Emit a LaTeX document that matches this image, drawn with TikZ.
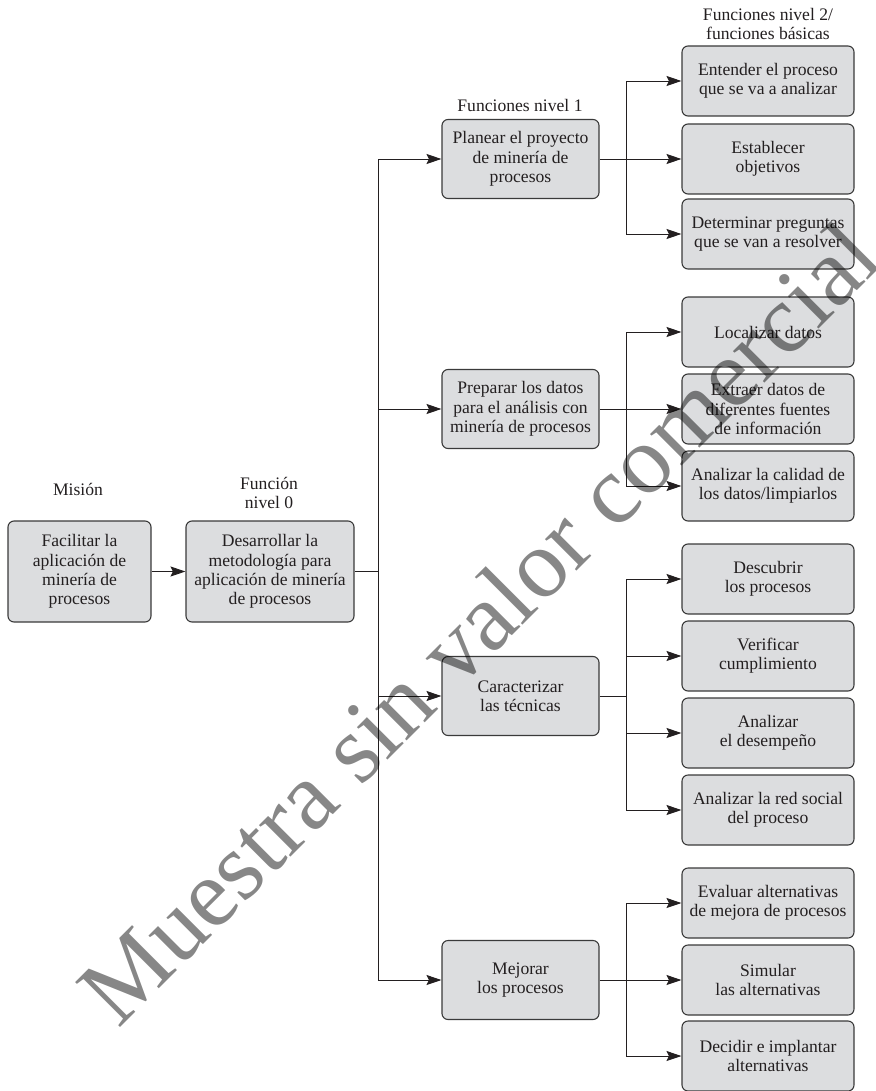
\documentclass[tikz,border=0pt]{standalone}
\usepackage{fontspec}
\setmainfont{Liberation Serif}
\newfontfamily\wmfont{Liberation Serif}
\usetikzlibrary{arrows.meta}
\definecolor{boxfill}{HTML}{DCDDDF}
\definecolor{boxline}{HTML}{3A3A3A}
\definecolor{ink}{HTML}{231F20}
\tikzset{
  fbox/.style={draw=boxline, line width=1.1pt, fill=boxfill, rounded corners=6pt,
    align=center, text=ink, inner sep=0pt,
    font=\fontsize{17.6}{19.3}\selectfont},
  mainbox/.style={fbox, minimum width=143pt, minimum height=101pt},
  zerobox/.style={fbox, minimum width=168pt, minimum height=101pt},
  levelone/.style={fbox, minimum width=157pt, minimum height=79pt},
  leveltwo/.style={fbox, minimum width=172pt, minimum height=70pt},
  heading/.style={align=center, text=ink, font=\fontsize{17.6}{19.3}\selectfont},
  link/.style={draw=ink, line width=0.9pt},
  arr/.style={link, -{Stealth[length=15pt, width=10pt, inset=2.5pt]}},
  mark text/.style={font=\wmfont\fontsize{97}{97}\selectfont, text=black,
    text opacity=0.47, inner sep=0pt}
}
\begin{document}
\begin{tikzpicture}[x=1pt, y=-1pt]
\useasboundingbox (0,0) rectangle (875,1091);

% column headings
\node[heading] (hm) at (78,489) {Misión};
\node[heading] (h0) at (269,493) {Función\\nivel 0};
\node[heading] (h1) at (520,105) {Funciones nivel 1};
\node[heading] (h2) at (768,24) {Funciones nivel 2/\\funciones básicas};

% mission and level 0
\node[mainbox] (m) at (79.5,571.5) {Facilitar la\\aplicación de\\minería de\\procesos};
\node[zerobox] (f0) at (270,571.5) {Desarrollar la\\metodología para\\aplicación de minería\\de procesos};

% level 1
\node[levelone] (p1) at (520.5,159) {Planear el proyecto\\de minería de\\procesos};
\node[levelone] (p2) at (520.5,409) {Preparar los datos\\para el análisis con\\minería de procesos};
\node[levelone] (p3) at (520.5,696) {Caracterizar\\las técnicas};
\node[levelone] (p4) at (520.5,980) {Mejorar\\los procesos};

% level 2
\node[leveltwo] (a1) at (768,81)   {Entender el proceso\\que se va a analizar};
\node[leveltwo] (a2) at (768,159)  {Establecer\\objetivos};
\node[leveltwo] (a3) at (768,234)  {Determinar preguntas\\que se van a resolver};
\node[leveltwo] (b1) at (768,332)  {Localizar datos};
\node[leveltwo] (b2) at (768,409)  {Extraer datos de\\diferentes fuentes\\de información};
\node[leveltwo] (b3) at (768,486)  {Analizar la calidad de\\los datos/limpiarlos};
\node[leveltwo] (c1) at (768,579)  {Descubrir\\los procesos};
\node[leveltwo] (c2) at (768,656)  {Verificar\\cumplimiento};
\node[leveltwo] (c3) at (768,733)  {Analizar\\el desempeño};
\node[leveltwo] (c4) at (768,810)  {Analizar la red social\\del proceso};
\node[leveltwo] (d1) at (768,903)  {Evaluar alternativas\\de mejora de procesos};
\node[leveltwo] (d2) at (768,980)  {Simular\\las alternativas};
\node[leveltwo] (d3) at (768,1056) {Decidir e implantar\\alternativas};

% connectors
\draw[arr] (m) -- (f0);
\draw[link] (f0.east) -- ++(24,0) coordinate (trunk);
\foreach \n in {p1,p2,p3,p4} \draw[arr] (trunk) |- (\n.west);

\draw[link] (p1.east) -- ++(27,0) coordinate (s1);
\foreach \n in {a1,a2,a3} \draw[arr] (s1) |- (\n.west);
\draw[link] (p2.east) -- ++(27,0) coordinate (s2);
\foreach \n in {b1,b2,b3} \draw[arr] (s2) |- (\n.west);
\draw[link] (p3.east) -- ++(27,0) coordinate (s3);
\foreach \n in {c1,c2,c3,c4} \draw[arr] (s3) |- (\n.west);
\draw[link] (p4.east) -- ++(27,0) coordinate (s4);
\foreach \n in {d1,d2,d3} \draw[arr] (s4) |- (\n.west);

% diagonal stamp across the chart
\node[mark text, rotate=45, anchor=base west] (stamp) at (118,1030) {Muestra sin valor comercial};
\end{tikzpicture}
\end{document}
